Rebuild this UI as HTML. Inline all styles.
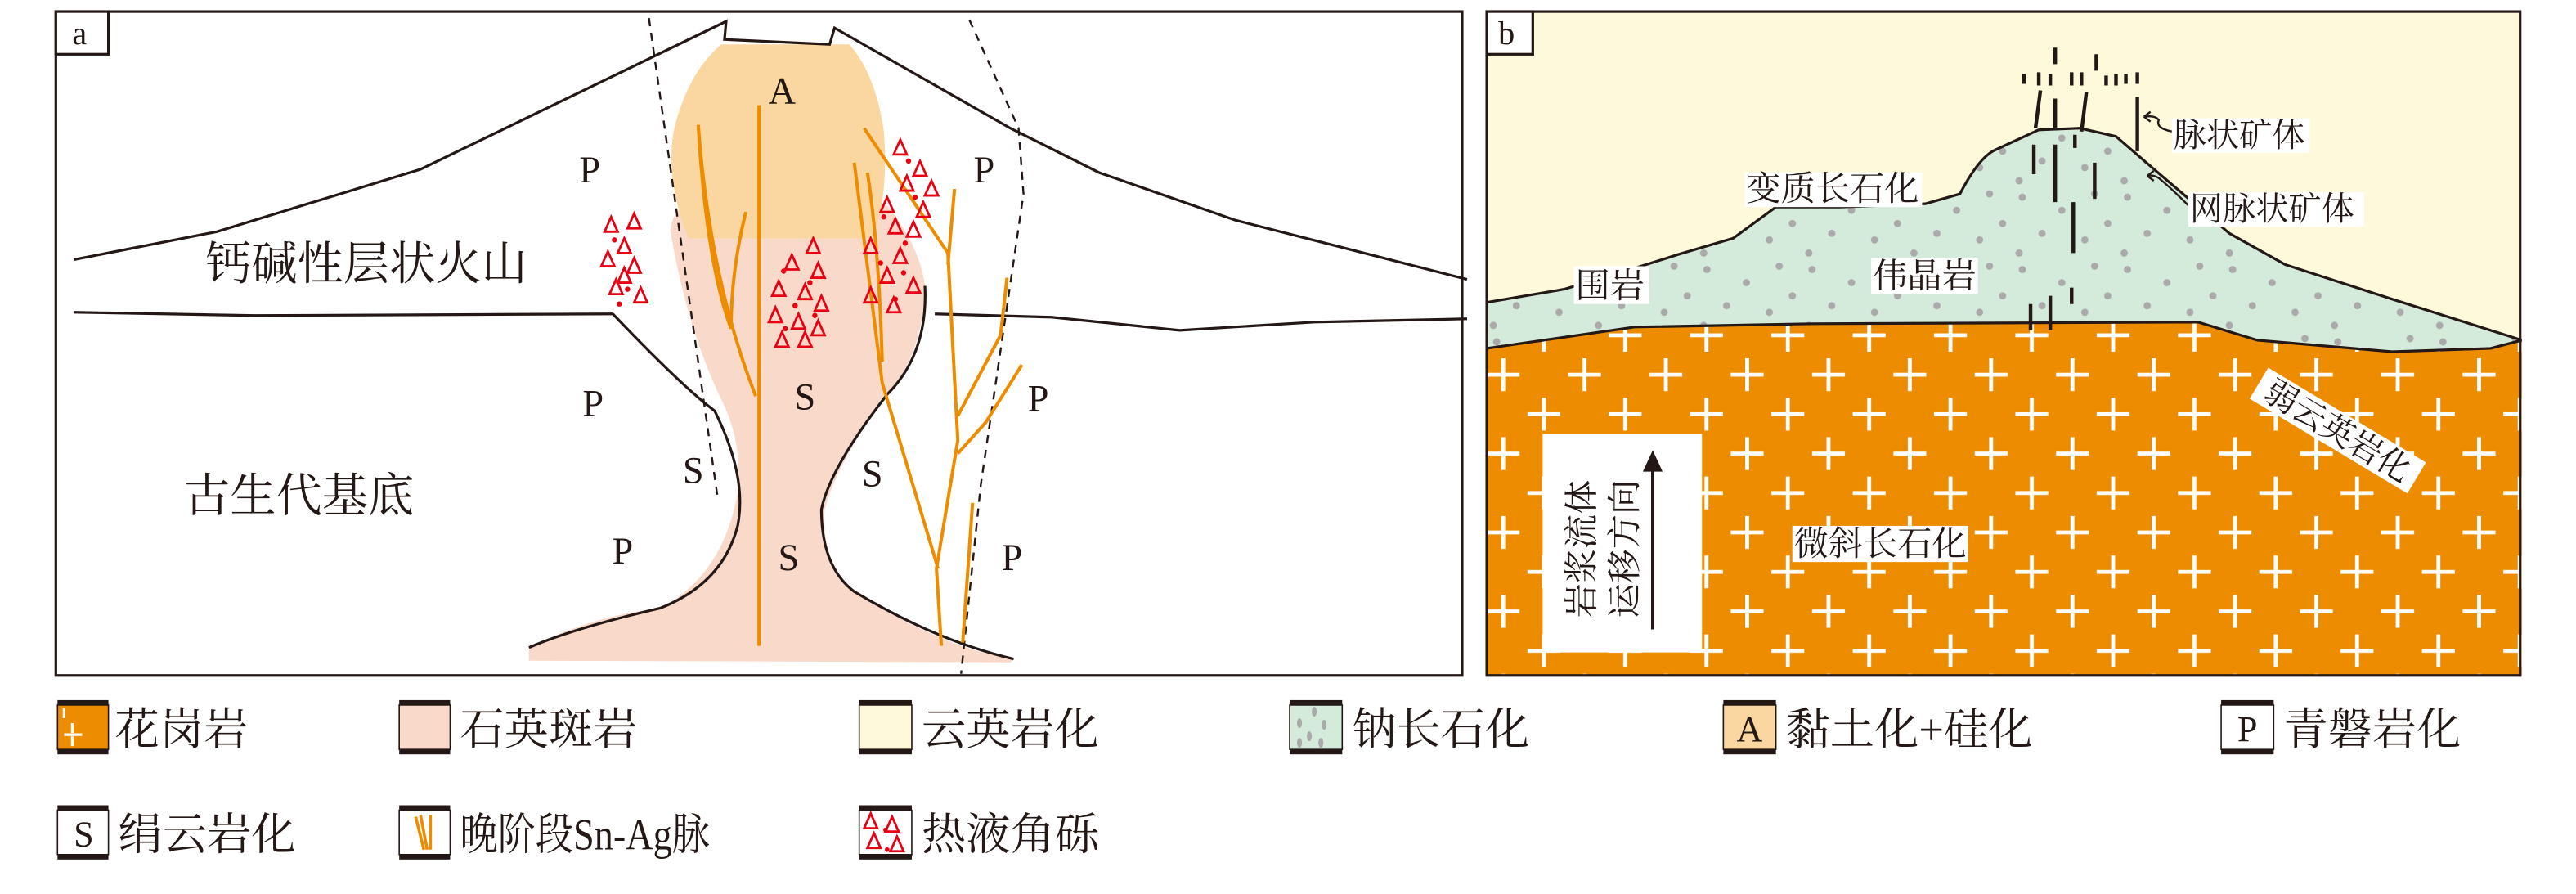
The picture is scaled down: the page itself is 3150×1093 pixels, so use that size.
<!DOCTYPE html>
<html><head><meta charset="utf-8"><style>
html,body{margin:0;padding:0;background:#fff}
svg{display:block}
.t{font-family:"Liberation Serif","Noto Serif CJK SC",serif;fill:#231815}
.l{font-family:"Liberation Serif","Noto Serif CJK SC",serif;fill:#231815}
</style></head><body>
<svg width="3150" height="1093" viewBox="0 0 1568 544" preserveAspectRatio="none" xmlns="http://www.w3.org/2000/svg">
<defs>
<pattern id="cross" x="915" y="216" width="49.5" height="48" patternUnits="userSpaceOnUse">
<g stroke="#fff" stroke-width="2.4">
<path d="M0 2 V22 M-10 12 H10"/><path d="M49.5 2 V22 M39.5 12 H59.5"/>
<path d="M24.75 26 V46 M14.75 36 H34.75"/>
<path d="M0 50 V70 M-10 60 H10"/><path d="M49.5 50 V70"/>
</g></pattern>
<pattern id="dots" x="905" y="70" width="64" height="44" patternUnits="userSpaceOnUse">
<g fill="#aaa"><circle cx="6" cy="6" r="2.2"/><circle cx="30" cy="14" r="2.2"/><circle cx="50" cy="4" r="2.2"/><circle cx="18" cy="28" r="2.2"/><circle cx="44" cy="32" r="2.2"/><circle cx="58" cy="22" r="2.2"/><circle cx="4" cy="40" r="2.2"/></g>
</pattern>
<g id="tri"><path d="M0 -5 L4 4 L-4 4 Z" fill="none" stroke="#e60012" stroke-width="1.4"/></g>
</defs>

<!-- Panel a -->
<rect x="34" y="7" width="856" height="404" fill="#fff" stroke="#231815" stroke-width="1.6"/>
<path d="M322,394 Q360,375 402,370 Q440,350 449,300 Q452,270 440,245 Q418,200 408,140 Q410,126 420,125 L540,125 Q560,150 563,174 Q562,215 540,240 Q510,280 502,310 Q500,345 520,360 Q575,395 617,401 L615,403 L322,402 Z" fill="#F9D9C9"/>
<path d="M439,27 L517,27 Q533,45 538,80 Q541,120 531,145 L419,145 Q405,110 410,80 Q418,45 439,27 Z" fill="#FAD7A0"/>
<g fill="none" stroke="#231815" stroke-width="1.6">
<path d="M45,158 L132,141 L256,103 L442,13 L441,24 L505,27 L508,17 L615,78 L669,105 L752,134 L893,170"/>
<path d="M45,190 L155,192 L373,191"/>
<path d="M373,191 Q415,235 435,250 Q455,290 449,320 Q440,355 402,370 Q350,382 322,394"/>
<path d="M563,174 Q565,215 540,240 Q505,285 500,310 Q500,345 520,360 Q570,390 617,401"/>
<path d="M569,191 L640,193 L718,201 L800,196 L893,194"/>
</g>
<g fill="none" stroke="#231815" stroke-width="1.2" stroke-dasharray="5,4">
<path d="M395,11 L437,304"/>
<path d="M590,12 L620,78 L623,118 L597,295 L585,410"/>
</g>
<g fill="none" stroke="#EE8C00" stroke-width="2">
<path d="M462,64 L462,393"/>
<path d="M425,76 Q430,160 445,200"/>
<path d="M454,129 Q445,165 445,200"/>
<path d="M425,76 Q432,170 460,241"/>
<path d="M526,78 L577,154 L583,268 L570,346 L573,393"/>
<path d="M520,99 L537,233 L571,346"/>
<path d="M581,115 L577,161"/>
<path d="M613,169 L609,204 L583,253"/>
<path d="M622,222 L600,257 L583,276"/>
<path d="M592,306 L586,391"/>
<path d="M528,105 Q535,150 537,220"/>
</g>
<g>
<use href="#tri" x="372" y="137"/><use href="#tri" x="386" y="135"/><use href="#tri" x="380" y="150"/><use href="#tri" x="370" y="158"/><use href="#tri" x="386" y="162"/><use href="#tri" x="375" y="175"/><use href="#tri" x="390" y="180"/><use href="#tri" x="380" y="168"/>
<use href="#tri" x="495" y="150"/><use href="#tri" x="482" y="160"/><use href="#tri" x="498" y="165"/><use href="#tri" x="474" y="176"/><use href="#tri" x="490" y="178"/><use href="#tri" x="500" y="185"/><use href="#tri" x="472" y="192"/><use href="#tri" x="486" y="196"/><use href="#tri" x="498" y="200"/><use href="#tri" x="476" y="207"/><use href="#tri" x="490" y="207"/>
<use href="#tri" x="548" y="90"/><use href="#tri" x="560" y="103"/><use href="#tri" x="552" y="112"/><use href="#tri" x="567" y="115"/><use href="#tri" x="540" y="125"/><use href="#tri" x="562" y="128"/><use href="#tri" x="545" y="138"/><use href="#tri" x="556" y="140"/><use href="#tri" x="530" y="150"/><use href="#tri" x="548" y="156"/><use href="#tri" x="540" y="168"/><use href="#tri" x="556" y="174"/><use href="#tri" x="530" y="180"/><use href="#tri" x="544" y="186"/>
</g>
<g fill="#e60012">
<circle cx="374" cy="146" r="1.6"/><circle cx="382" cy="176" r="1.6"/><circle cx="377" cy="185" r="1.6"/>
<circle cx="477" cy="165" r="1.6"/><circle cx="493" cy="172" r="1.6"/><circle cx="484" cy="186" r="1.6"/><circle cx="478" cy="200" r="1.6"/><circle cx="496" cy="192" r="1.6"/>
<circle cx="553" cy="98" r="1.6"/><circle cx="557" cy="120" r="1.6"/><circle cx="538" cy="132" r="1.6"/><circle cx="551" cy="148" r="1.6"/><circle cx="536" cy="160" r="1.6"/><circle cx="550" cy="166" r="1.6"/><circle cx="545" cy="182" r="1.6"/>
</g>
<g class="l" font-size="23" text-anchor="middle">
<text x="476" y="63">A</text>
<text x="359" y="111">P</text><text x="599" y="111">P</text>
<text x="361" y="253">P</text><text x="632" y="250">P</text>
<text x="490" y="249">S</text><text x="422" y="294">S</text><text x="531" y="296">S</text><text x="480" y="347">S</text>
<text x="379" y="343">P</text><text x="616" y="347">P</text>
</g>
<text class="t" x="125" y="170" font-size="28">钙碱性层状火山</text>
<text class="t" x="112" y="311" font-size="28">古生代基底</text>
<rect x="34" y="7" width="32" height="26" fill="#fff" stroke="#231815" stroke-width="1.6"/>
<text class="l" x="44" y="27" font-size="20">a</text>

<!-- Panel b -->
<rect x="905" y="7" width="629" height="404" fill="#FEF9DA"/>
<path d="M905,212 L995,199 L1103,197 L1338,196 L1374,207 L1456,214 L1516,212 L1535,207 L1535,411 L905,411 Z" fill="#EE8C00"/>
<path d="M905,212 L995,199 L1103,197 L1338,196 L1374,207 L1456,214 L1516,212 L1535,207 L1535,411 L905,411 Z" fill="url(#cross)"/>
<path d="M905,184 L952,176 Q990,165 1021,155 L1055,145 L1081,126 L1120,126 L1172,124 L1193,118 Q1205,95 1215,91 L1241,79 L1266,78 L1288,83 L1310,102 L1357,142 L1391,161 L1456,182 L1535,207 L1516,212 L1456,214 L1374,207 L1338,196 L1103,197 L995,199 L905,212 Z" fill="#D4EADB"/>
<path d="M905,184 L952,176 Q990,165 1021,155 L1055,145 L1081,126 L1120,126 L1172,124 L1193,118 Q1205,95 1215,91 L1241,79 L1266,78 L1288,83 L1310,102 L1357,142 L1391,161 L1456,182 L1535,207 L1516,212 L1456,214 L1374,207 L1338,196 L1103,197 L995,199 L905,212 Z" fill="url(#dots)"/>
<path d="M905,184 L952,176 Q990,165 1021,155 L1055,145 L1081,126 L1120,126 L1172,124 L1193,118 Q1205,95 1215,91 L1241,79 L1266,78 L1288,83 L1310,102 L1357,142 L1391,161 L1456,182 L1535,207 M905,212 L995,199 L1103,197 L1338,196 L1374,207 L1456,214 L1516,212 L1535,207" fill="none" stroke="#231815" stroke-width="1.6"/>
<g stroke="#231815" stroke-width="2.2" fill="none">
<path d="M1251,29 V39 M1276,33 V43"/>
<path d="M1232,45 V51 M1241,44 V52 M1248,45 V52 M1261,44 V52 M1267,44 V52 M1282,46 V52 M1288,45 V52 M1294,45 V51 M1301,44 V51"/>
<path d="M1242,55 L1239,78 M1251,60 V78 M1270,56 L1267,80 M1301,59 V92"/>
<path d="M1238,88 V106 M1251,88 V123 M1263,82 V90 M1275,99 V121 M1262,123 V154 M1261,175 V185 M1236,185 V201 M1248,180 V201"/>
</g>
<g stroke="#231815" stroke-width="1.2" fill="none">
<path d="M1322,80 Q1312,78 1314,73 Q1312,70 1305,71"/><path d="M1305,71 l4,-3 M1305,71 l4,3"/>
<path d="M1332,125 Q1322,115 1316,110 Q1312,106 1307,107"/><path d="M1307,107 l4,-3 M1307,107 l4,3"/>
</g>
<g>
<rect x="1322" y="72" width="84" height="21" fill="#fff"/><text class="t" x="1323" y="89" font-size="20">脉状矿体</text>
<rect x="1332" y="117" width="107" height="21" fill="#fff"/><text class="t" x="1333" y="134" font-size="20">网脉状矿体</text>
<rect x="1062" y="105" width="108" height="21" fill="#fff"/><text class="t" x="1063" y="122" font-size="21">变质长石化</text>
<rect x="958" y="162" width="46" height="23" fill="#fff"/><text class="t" x="959" y="181" font-size="21">围岩</text>
<rect x="1139" y="157" width="65" height="22" fill="#fff"/><text class="t" x="1140" y="175" font-size="21">伟晶岩</text>
<rect x="1091" y="320" width="107" height="22" fill="#fff"/><text class="t" x="1092" y="338" font-size="21">微斜长石化</text>
<g transform="translate(1423,262) rotate(31)"><rect x="-56" y="-11" width="112" height="22" fill="#fff"/><text class="t" x="0" y="7" font-size="20" text-anchor="middle">弱云英岩化</text></g>
<rect x="939" y="264" width="97" height="133" fill="#fff"/>
<text class="t" transform="translate(970,376) rotate(-90)" font-size="21">岩浆流体</text>
<text class="t" transform="translate(996,376) rotate(-90)" font-size="21">运移方向</text>
<path d="M1006,383 V285" stroke="#231815" stroke-width="2"/><path d="M1000,287 L1006,274 L1012,287 Z" fill="#231815"/>
</g>
<rect x="905" y="7" width="629" height="404" fill="none" stroke="#231815" stroke-width="1.6"/>
<rect x="905" y="7" width="28" height="26" fill="#fff" stroke="#231815" stroke-width="1.6"/>
<text class="l" x="912" y="27" font-size="20">b</text>

<!-- Legend -->
<g>
<rect x="35" y="429" width="31" height="27" fill="#EE8C00" stroke="#231815" stroke-width="0.8"/>
<path d="M39,431 V437 M44,448 V454 M39,447 H50 M44,440 V446" stroke="#fff" stroke-width="1.6"/>
<rect x="243" y="429" width="31" height="27" fill="#F9D9C9" stroke="#231815" stroke-width="0.8"/>
<rect x="523" y="429" width="32" height="27" fill="#FEF9DA" stroke="#231815" stroke-width="0.8"/>
<rect x="785" y="429" width="32" height="27" fill="#D4EADB" stroke="#231815" stroke-width="0.8"/>
<g fill="#aaa"><ellipse cx="800" cy="433" rx="1.5" ry="3"/><ellipse cx="791" cy="440" rx="1.5" ry="3"/><ellipse cx="806" cy="441" rx="1.5" ry="3"/><ellipse cx="797" cy="448" rx="1.5" ry="3"/><ellipse cx="791" cy="452" rx="1.5" ry="3"/><ellipse cx="804" cy="452" rx="1.5" ry="3"/></g>
<rect x="1049" y="429" width="32" height="27" fill="#FAD7A0" stroke="#231815" stroke-width="0.8"/>
<rect x="1352" y="429" width="32" height="27" fill="#fff" stroke="#231815" stroke-width="0.8"/>
<rect x="35" y="493" width="31" height="27" fill="#fff" stroke="#231815" stroke-width="0.8"/>
<rect x="243" y="493" width="31" height="27" fill="#fff" stroke="#231815" stroke-width="0.8"/>
<rect x="523" y="493" width="32" height="27" fill="#fff" stroke="#231815" stroke-width="0.8"/>
<g fill="#231815">
<rect x="35" y="426" width="31" height="3"/><rect x="35" y="456" width="31" height="3"/>
<rect x="243" y="426" width="31" height="3"/><rect x="243" y="456" width="31" height="3"/>
<rect x="523" y="426" width="32" height="3"/><rect x="523" y="456" width="32" height="3"/>
<rect x="785" y="426" width="32" height="3"/><rect x="785" y="456" width="32" height="3"/>
<rect x="1049" y="426" width="32" height="3"/><rect x="1049" y="456" width="32" height="3"/>
<rect x="1352" y="426" width="32" height="3"/><rect x="1352" y="456" width="32" height="3"/>
<rect x="35" y="490" width="31" height="3"/><rect x="35" y="520" width="31" height="3"/>
<rect x="243" y="490" width="31" height="3"/><rect x="243" y="520" width="31" height="3"/>
<rect x="523" y="490" width="32" height="3"/><rect x="523" y="520" width="32" height="3"/>
</g>
<path d="M253,497 L258,517 M256,496 L260,517 M262,496 V517" stroke="#EE8C00" stroke-width="1.8" fill="none"/>
<g transform="translate(-2,0)"><use href="#tri" x="532" y="500"/><use href="#tri" x="545" y="502"/><use href="#tri" x="534" y="512"/><use href="#tri" x="548" y="514"/></g>
<g fill="#e60012"><circle cx="539" cy="505" r="1.4"/><circle cx="540" cy="517" r="1.4"/></g>
<g class="l" font-size="22" text-anchor="middle"><text x="1065" y="451">A</text><text x="1368" y="451">P</text><text x="51" y="515">S</text></g>
<g class="t" font-size="27">
<text x="70" y="453">花岗岩</text>
<text x="280" y="453">石英斑岩</text>
<text x="561" y="453">云英岩化</text>
<text x="823" y="453">钠长石化</text>
<text x="1087" y="453">黏土化+硅化</text>
<text x="1390" y="453">青磐岩化</text>
<text x="72" y="517">绢云岩化</text>
<text x="280" y="517" textLength="152" lengthAdjust="spacingAndGlyphs">晚阶段Sn-Ag脉</text>
<text x="561" y="517">热液角砾</text>
</g>
</g>
</svg>
</body></html>
